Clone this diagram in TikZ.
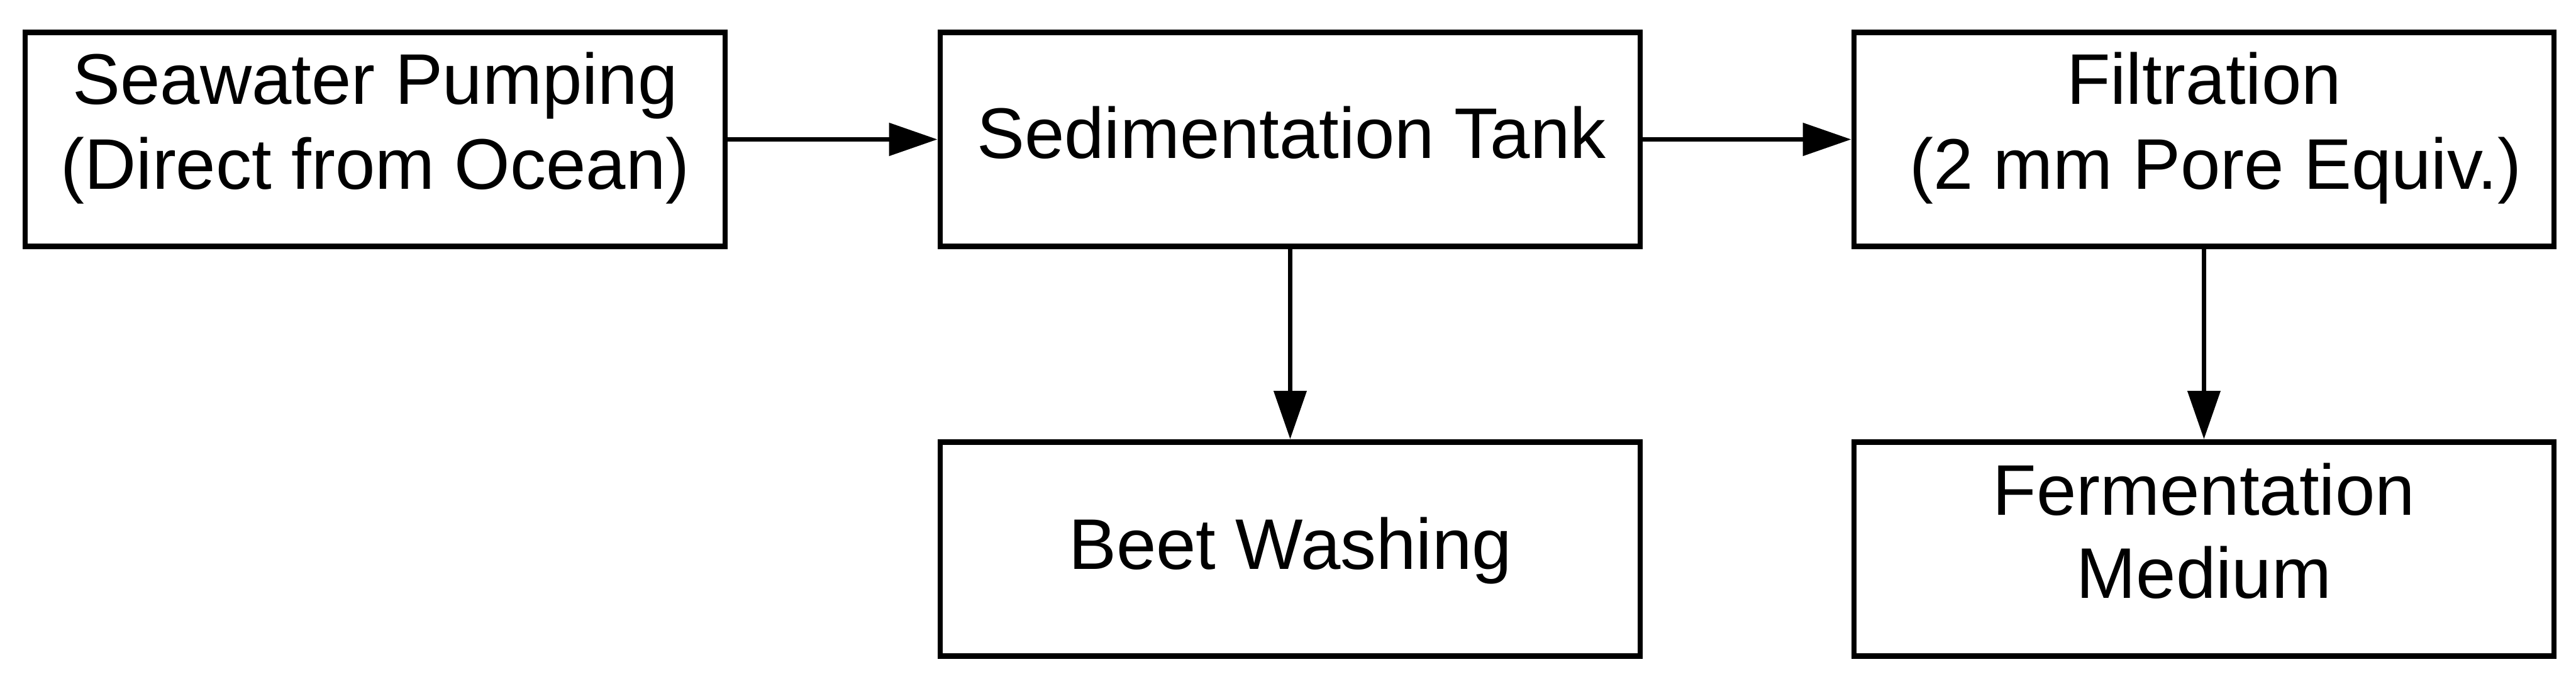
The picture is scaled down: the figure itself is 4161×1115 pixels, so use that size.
\documentclass[tikz,border=0pt]{standalone}
\usepackage{fontspec}
\setmainfont{Liberation Sans}
\usetikzlibrary{arrows.meta}
\begin{document}
\begin{tikzpicture}[x=0.01cm,y=-0.01cm,
  box/.style={draw=black,line width=0.09cm,minimum width=11.3cm,minimum height=3.45cm,inner sep=0pt},
  txt/.style={anchor=base,inner sep=0pt,font=\fontsize{32.9}{39.5}\selectfont},
  arr/.style={line width=0.07cm,-{Triangle[length=0.78cm,width=0.52cm]}}]
\useasboundingbox (0,0) rectangle (4161,1115);
\node[box] (b1) at (606,225) {};
\node[box] (b2) at (2084,225) {};
\node[box] (b3) at (3560,225) {};
\node[box] (b4) at (2084,886) {};
\node[box] (b5) at (3560,886) {};
\node[txt] (t1a) at (606,168) {Seawater Pumping};
\node[txt] (t1b) at (606,305) {(Direct from Ocean)};
\node[txt] (t2) at (2086,255) {Sedimentation Tank};
\node[txt] (t3a) at (3560,168) {Filtration};
\node[txt] (t3b) at (3579,305) {(2 mm Pore Equiv.)};
\node[txt] (t4) at (2084,919) {Beet Washing};
\node[txt] (t5a) at (3560,831) {Fermentation};
\node[txt] (t5b) at (3560,966) {Medium};
\draw[arr] (b1.east) -- (b2.west);
\draw[arr] (b2.east) -- (b3.west);
\draw[arr] (b2.south) -- (b4.north);
\draw[arr] (b3.south) -- (b5.north);
\end{tikzpicture}
\end{document}
